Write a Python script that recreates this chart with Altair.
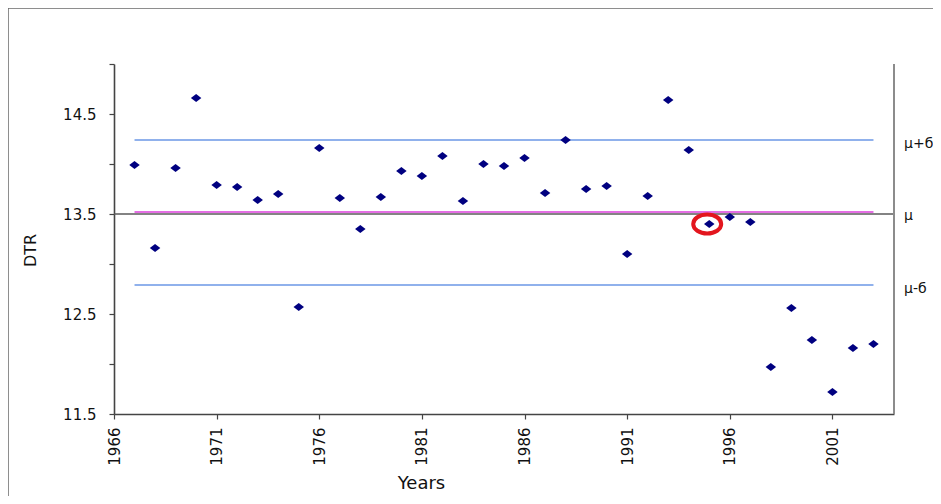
import altair as alt
import pandas as pd

# ---- data ----
years = list(range(1967, 2004))
dtr = [13.99, 13.16, 13.96, 14.66, 13.79, 13.77, 13.64, 13.70, 12.57, 14.16,
       13.66, 13.35, 13.67, 13.93, 13.88, 14.08, 13.63, 14.00, 13.98, 14.06,
       13.71, 14.24, 13.75, 13.78, 13.10, 13.68, 14.64, 14.14, 13.40, 13.47,
       13.42, 11.97, 12.56, 12.24, 11.72, 12.16, 12.20]

x_domain = [1966, 2004]
y_domain = [11.5, 15.0]
x_tick_values = [1966, 1971, 1976, 1981, 1986, 1991, 1996, 2001]
y_tick_values = [11.5, 12.0, 12.5, 13.0, 13.5, 14.0, 14.5, 15.0]

band_names = ["μ+б", "μ", "μ-б"]
band_values = [14.24, 13.52, 12.79]
band_colors = ["#6b97e6", "#e46ee4", "#6b97e6"]
band_widths = [1.3, 1.8, 1.3]
band_start = [1967, 1967, 1967]
band_end = [2003, 2003, 2003]
cross_line_value = [13.5]

highlight_year = [1994.9]
highlight_value = [13.40]

W, H = 780, 350
FONT = "DejaVu Sans"

df = pd.DataFrame({"year": years, "dtr": dtr})
bands = pd.DataFrame({"name": band_names, "value": band_values, "color": band_colors,
                      "width": band_widths, "start": band_start, "end": band_end})
one = pd.DataFrame({"a": [0]})
hl = pd.DataFrame({"year": highlight_year, "dtr": highlight_value})

xscale = alt.Scale(domain=x_domain, nice=False, zero=False)
yscale = alt.Scale(domain=y_domain, nice=False, zero=False)

x_axis = alt.Axis(
    values=x_tick_values, format="d", labelAngle=270, labelFont=FONT,
    labelFontSize=15, labelColor="#111", labelPadding=8, labelFlush=False,
    labelOverlap=False, tickSize=5, tickColor="#444", tickWidth=1.2,
    domainColor="#444", domainWidth=1.6, grid=False,
    title="Years", titleFont=FONT, titleFontSize=18, titleFontWeight="normal",
    titleColor="#111", titleX=307, titleY=74, titleBaseline="alphabetic",
    titleAlign="center")
y_axis = alt.Axis(
    values=y_tick_values,
    labelExpr="datum.value % 1 == 0.5 ? format(datum.value, '.1f') : ''",
    labelFont=FONT, labelFontSize=15, labelColor="#111", labelPadding=13,
    labelFlush=False, labelOverlap=False, tickSize=5, tickColor="#444",
    tickWidth=1.2, domainColor="#444", domainWidth=1.6, grid=False,
    title="DTR", titleFont=FONT, titleFontSize=16, titleFontWeight="normal",
    titleColor="#111", titleX=-76, titleY=186, titleAngle=270,
    titleAlign="center", titleBaseline="bottom")

frame = alt.Chart(one).mark_rect(fillOpacity=0, stroke="#6a6a6a", strokeWidth=1.5).encode(
    x=alt.value(-106), x2=alt.value(1400), y=alt.value(-56), y2=alt.value(900)
)

cross = alt.Chart(pd.DataFrame({"v": cross_line_value})).mark_rule(
    color="#5a5a5a", strokeWidth=1.5
).encode(
    x=alt.datum(x_domain[0], scale=xscale, axis=x_axis, title="Years"),
    x2=alt.datum(x_domain[1]),
    y=alt.Y("v:Q", scale=yscale, axis=y_axis, title="DTR"),
)

band_rules = alt.Chart(bands).mark_rule().encode(
    x=alt.X("start:Q", scale=xscale, axis=x_axis, title="Years"),
    x2="end:Q",
    y=alt.Y("value:Q", scale=yscale, axis=y_axis, title="DTR"),
    color=alt.Color("color:N", scale=None),
    strokeWidth=alt.StrokeWidth("width:Q", scale=None),
)

right_axis = alt.Chart(one).mark_rule(color="#8c8c8c", strokeWidth=2).encode(
    x=alt.datum(x_domain[1], scale=xscale, axis=x_axis, title="Years"),
    y=alt.datum(y_domain[0], scale=yscale, axis=y_axis, title="DTR"),
    y2=alt.datum(y_domain[1]),
)

diamond = "M0,-0.75L1,0L0,0.75L-1,0Z"
points = alt.Chart(df).mark_point(
    shape=diamond, filled=True, size=110, color="#000080", opacity=1
).encode(
    x=alt.X("year:Q", scale=xscale, axis=x_axis, title="Years"),
    y=alt.Y("dtr:Q", scale=yscale, axis=y_axis, title="DTR"),
)

ellipse = "M-1,0A1,0.68 0 1,0 1,0A1,0.68 0 1,0 -1,0Z"
circle = alt.Chart(hl).mark_point(
    shape=ellipse, filled=False, size=784, color="#e3161e", strokeWidth=4, opacity=1
).encode(
    x=alt.X("year:Q", scale=xscale, axis=x_axis, title="Years"),
    y=alt.Y("dtr:Q", scale=yscale, axis=y_axis, title="DTR"),
)

labels = alt.Chart(bands).mark_text(
    align="left", baseline="middle", dx=10, dy=4, font=FONT, fontSize=14, color="#111"
).encode(
    x=alt.datum(x_domain[1], scale=xscale, axis=x_axis, title="Years"),
    y=alt.Y("value:Q", scale=yscale, axis=y_axis, title="DTR"),
    text="name:N",
)

chart = alt.layer(
    frame, cross, band_rules, right_axis, points, circle, labels
).properties(
    width=W, height=H,
    padding={"left": 106, "top": 56, "right": 39, "bottom": 82},
    autosize=alt.AutoSizeParams(type="none"),
).configure(background="white").configure_view(stroke=None)

chart.save("out.html", embed_options={"renderer": "svg", "actions": False})
